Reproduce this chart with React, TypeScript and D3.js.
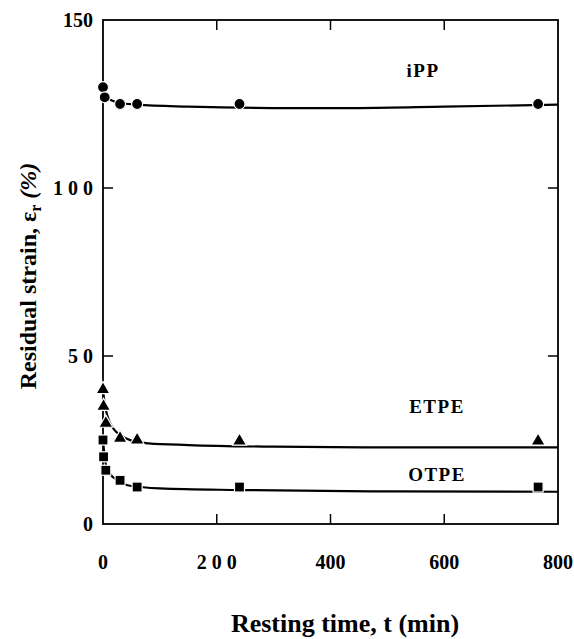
import React, { useEffect, useRef } from 'react';
import * as d3 from 'd3';

// measured points
const ippT = [0, 3, 30, 60, 240, 765];
const ippV = [130, 127, 125, 125, 125, 125];
const etpeT = [0, 1, 5, 30, 60, 240, 765];
const etpeV = [40, 35, 30, 25.5, 25, 24.7, 24.7];
const otpeT = [0, 1, 5, 30, 60, 240, 765];
const otpeV = [25, 20, 16, 13, 11, 11, 11];

// fitted curves
const ippCurveT = [0, 3, 10, 30, 60, 150, 300, 450, 600, 800];
const ippCurveV = [130, 128, 126.5, 125.3, 124.8, 124.2, 123.8, 123.8, 124.2, 124.8];
const etpeCurveT = [0, 2, 5, 10, 20, 30, 50, 80, 150, 300, 500, 800];
const etpeCurveV = [40, 37, 34, 31, 28, 26.5, 24.8, 24, 23.5, 23, 22.8, 22.8];
const otpeCurveT = [0, 3, 6, 12, 25, 50, 100, 240, 500, 800];
const otpeCurveV = [25, 20, 17, 15, 13, 11.3, 10.6, 10.1, 9.7, 9.6];

const xTicks = [0, 200, 400, 600, 800];
const xTickLabels = ['0', '2 0 0', '400', '600', '800'];
const yTicks = [0, 50, 100, 150];
const yTickLabels = ['0', '5 0', '1 0 0', '150'];

const serif = "'Liberation Serif', 'Times New Roman', 'DejaVu Serif', serif";

function App() {
    const ref = useRef<SVGSVGElement>(null);

    useEffect(() => {
        const svg = d3.select(ref.current);
        svg.selectAll('*').remove();

        const x = d3.scaleLinear().domain([0, 800]).range([103, 558]);
        const y = d3.scaleLinear().domain([0, 150]).range([524, 20]);

        const line = d3.line<[number, number]>()
            .x(d => x(d[0]))
            .y(d => y(d[1]))
            .curve(d3.curveMonotoneX);

        const curves = [
            d3.zip(ippCurveT, ippCurveV),
            d3.zip(etpeCurveT, etpeCurveV),
            d3.zip(otpeCurveT, otpeCurveV),
        ];
        curves.forEach(c => {
            svg.append('path')
                .attr('d', line(c as [number, number][]))
                .attr('fill', 'none')
                .attr('stroke', '#000')
                .attr('stroke-width', 2.2);
        });

        // frame
        svg.append('rect')
            .attr('x', x(0)).attr('y', y(150))
            .attr('width', x(800) - x(0)).attr('height', y(0) - y(150))
            .attr('fill', 'none').attr('stroke', '#000').attr('stroke-width', 1.8);

        const tl = 10;
        xTicks.slice(1, -1).forEach(t => {
            svg.append('line').attr('x1', x(t)).attr('x2', x(t))
                .attr('y1', y(0)).attr('y2', y(0) - tl).attr('stroke', '#000').attr('stroke-width', 1.5);
            svg.append('line').attr('x1', x(t)).attr('x2', x(t))
                .attr('y1', y(150)).attr('y2', y(150) + tl).attr('stroke', '#000').attr('stroke-width', 1.5);
        });
        yTicks.slice(1, -1).forEach(v => {
            svg.append('line').attr('x1', x(0)).attr('x2', x(0) + tl)
                .attr('y1', y(v)).attr('y2', y(v)).attr('stroke', '#000').attr('stroke-width', 1.5);
            svg.append('line').attr('x1', x(800)).attr('x2', x(800) - tl)
                .attr('y1', y(v)).attr('y2', y(v)).attr('stroke', '#000').attr('stroke-width', 1.5);
        });

        const txt = (sel: any, size: number) =>
            sel.style('font-family', serif).style('font-weight', 'bold').style('font-size', size + 'px');

        xTicks.forEach((t, i) => {
            txt(svg.append('text')
                .attr('x', x(t)).attr('y', 569)
                .attr('text-anchor', 'middle'), 20)
                .text(xTickLabels[i]);
        });
        yTicks.forEach((v, i) => {
            txt(svg.append('text')
                .attr('x', 93).attr('y', y(v) + 7)
                .attr('text-anchor', 'end'), 20)
                .text(yTickLabels[i]);
        });

        // markers
        svg.selectAll('circle.ipp').data(d3.zip(ippT, ippV)).enter().append('circle')
            .attr('cx', d => x(d[0])).attr('cy', d => y(d[1])).attr('r', 5.5)
            .attr('fill', '#000').attr('stroke', '#fff').attr('stroke-width', 1.2);

        const tri = d3.symbol().type(d3.symbolTriangle).size(85);
        svg.selectAll('path.etpe').data(d3.zip(etpeT, etpeV)).enter().append('path')
            .attr('d', tri)
            .attr('transform', d => `translate(${x(d[0])},${y(d[1])})`)
            .attr('fill', '#000').attr('stroke', '#fff').attr('stroke-width', 1.2);

        const sq = 10;
        svg.selectAll('rect.otpe').data(d3.zip(otpeT, otpeV)).enter().append('rect')
            .attr('x', d => x(d[0]) - sq / 2).attr('y', d => y(d[1]) - sq / 2)
            .attr('width', sq).attr('height', sq)
            .attr('fill', '#000').attr('stroke', '#fff').attr('stroke-width', 1.2);

        // series labels
        const labels: [string, number, number][] = [
            ['iPP', 423, 77],
            ['ETPE', 437, 413],
            ['OTPE', 437, 481],
        ];
        labels.forEach(([s, lx, ly]) => {
            txt(svg.append('text')
                .attr('x', lx).attr('y', ly)
                .attr('text-anchor', 'middle')
                .attr('letter-spacing', 1.5), 19)
                .text(s);
        });

        // axis titles
        txt(svg.append('text')
            .attr('x', 345).attr('y', 632)
            .attr('text-anchor', 'middle'), 26)
            .text('Resting time, t (min)');

        const yt = txt(svg.append('text')
            .attr('transform', 'translate(36,276) rotate(-90)')
            .attr('text-anchor', 'middle'), 24);
        yt.append('tspan').text('Residual strain, ε');
        yt.append('tspan').style('font-size', '16px').attr('dy', 5).text('r');
        yt.append('tspan').attr('dy', -5).style('font-style', 'italic').text(' (%)');
    }, []);

    return <svg ref={ref} width={574} height={639} style={{ position: 'absolute', left: 0, top: 0, background: '#fff' }} />;
}

export default App;
